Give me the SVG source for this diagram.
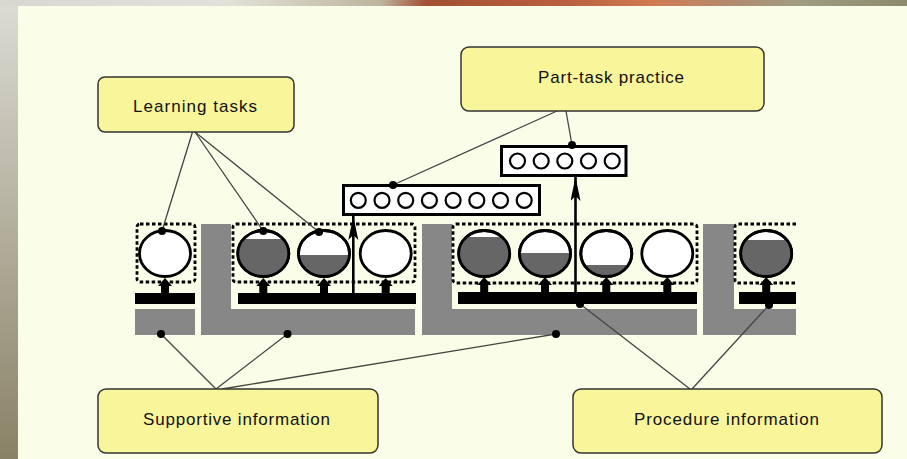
<svg xmlns="http://www.w3.org/2000/svg" width="907" height="459" viewBox="0 0 907 459">
<style>
.lbl{fill:#f8f59b;stroke:#333;stroke-width:1.5}
.txt{font-family:"Liberation Sans",Arial,sans-serif;font-size:17px;fill:#111;text-anchor:middle}
.dot{fill:#000}
.con line{stroke:#444;stroke-width:1.3}
.con line.arr{stroke:#000;stroke-width:2.6}
.dash{fill:none;stroke:#000;stroke-width:2.8;stroke-dasharray:3.5 2.5}
.ball{fill:#fff;stroke:#000;stroke-width:2.8}
.lvl{fill:#666}
.bar{fill:#000}
.grey{fill:#878787}
.seq{fill:#fff;stroke:#000;stroke-width:3}
.sc{fill:none;stroke:#000;stroke-width:2.2}
</style>
<defs>
<linearGradient id="lg" x1="0" y1="0" x2="0" y2="1">
<stop offset="0" stop-color="#dcdcd4"/><stop offset="1" stop-color="#8a8266"/>
</linearGradient>
<linearGradient id="tg" x1="0" y1="0" x2="1" y2="0">
<stop offset="0" stop-color="#d8d8d0"/><stop offset="0.25" stop-color="#e2e2da"/><stop offset="0.42" stop-color="#bdb49c"/><stop offset="0.47" stop-color="#a24f32"/><stop offset="0.62" stop-color="#b8603f"/><stop offset="0.72" stop-color="#d27a52"/><stop offset="0.8" stop-color="#b28a6c"/><stop offset="0.88" stop-color="#a09c82"/><stop offset="1" stop-color="#8e8a6e"/>
</linearGradient>
<marker id="ah" markerUnits="userSpaceOnUse" markerWidth="26" markerHeight="12" refX="24" refY="5" orient="auto">
<path d="M0,0 L24,5 L0,10 L5,5 Z" fill="#000"/>
</marker>
<path id="stem" d="M0,-15 L7,-7 L4,-7 L4,0 L-4,0 L-4,-7 L-7,-7 Z" fill="#000"/>
</defs>
<rect x="0" y="0" width="907" height="459" fill="#fafde8"/>
<rect x="0" y="0" width="18" height="459" fill="url(#lg)"/>
<rect x="0" y="0" width="907" height="6" fill="url(#tg)"/>

<g id="bands">
<rect class="grey" x="135" y="309" width="60" height="26"/>
<path class="grey" d="M201,224 H231 V309 H415 V335 H201 Z"/>
<path class="grey" d="M422,224 H452 V309 H697 V335 H422 Z"/>
<path class="grey" d="M703,224 H734 V309 H796 V335 H703 Z"/>
<rect class="bar" x="135" y="293" width="60" height="11"/>
<rect class="bar" x="238" y="293" width="178" height="11"/>
<rect class="bar" x="458" y="292" width="239" height="12"/>
<rect class="bar" x="739" y="292" width="57" height="12"/>
</g>

<g id="segment1">
<rect class="dash" x="137" y="224" width="58" height="58" rx="3"/>
<ellipse class="ball" cx="165" cy="253.5" rx="25.5" ry="23"/>
<use href="#stem" x="165" y="293"/>
</g>

<g id="segment2">
<rect class="dash" x="233" y="224" width="182" height="58" rx="3"/>
<ellipse class="ball" cx="263.3" cy="253.5" rx="25.5" ry="23"/>
<path class="lvl" d="M243.5,239 A25.5,23 0 1 0 283.1,239 Z"/>
<ellipse cx="263.3" cy="253.5" rx="25.5" ry="23" fill="none" stroke="#000" stroke-width="2.8"/>
<ellipse class="ball" cx="324" cy="253.5" rx="25.5" ry="23"/>
<path class="lvl" d="M298.6,255 A25.5,23 0 0 0 349.4,255 Z"/>
<ellipse cx="324" cy="253.5" rx="25.5" ry="23" fill="none" stroke="#000" stroke-width="2.8"/>
<ellipse class="ball" cx="385.7" cy="253.5" rx="25.5" ry="23"/>
<use href="#stem" x="263.3" y="293"/>
<use href="#stem" x="324" y="293"/>
<use href="#stem" x="385.7" y="293"/>
</g>

<g id="segment3">
<rect class="dash" x="453" y="224" width="244" height="59" rx="3"/>
<ellipse class="ball" cx="484.2" cy="253.5" rx="25.5" ry="23"/>
<path class="lvl" d="M466.4,237 A25.5,23 0 1 0 502,237 Z"/>
<ellipse cx="484.2" cy="253.5" rx="25.5" ry="23" fill="none" stroke="#000" stroke-width="2.8"/>
<ellipse class="ball" cx="545" cy="253.5" rx="25.5" ry="23"/>
<path class="lvl" d="M519.5,253 A25.5,23 0 1 0 570.5,253 Z"/>
<ellipse cx="545" cy="253.5" rx="25.5" ry="23" fill="none" stroke="#000" stroke-width="2.8"/>
<ellipse class="ball" cx="606.3" cy="253.5" rx="25.5" ry="23"/>
<path class="lvl" d="M584.2,265 A25.5,23 0 0 0 628.4,265 Z"/>
<ellipse cx="606.3" cy="253.5" rx="25.5" ry="23" fill="none" stroke="#000" stroke-width="2.8"/>
<ellipse class="ball" cx="667.3" cy="253.5" rx="25.5" ry="23"/>
<use href="#stem" x="484.2" y="292"/>
<use href="#stem" x="545" y="292"/>
<use href="#stem" x="606.3" y="292"/>
<use href="#stem" x="667.3" y="292"/>
</g>

<g id="segment4">
<path class="dash" d="M796,224 H738 Q735,224 735,227 V280 Q735,283 738,283 H796"/>
<ellipse class="ball" cx="766.2" cy="253.5" rx="25.5" ry="23"/>
<path class="lvl" d="M745.6,240 A25.5,23 0 1 0 786.8,240 Z"/>
<ellipse cx="766.2" cy="253.5" rx="25.5" ry="23" fill="none" stroke="#000" stroke-width="2.8"/>
<use href="#stem" x="766.2" y="292"/>
</g>

<g id="practice8">
<rect class="seq" x="343.5" y="185.5" width="196" height="29"/>
<circle class="sc" cx="358.3" cy="200.3" r="7.5"/>
<circle class="sc" cx="382" cy="200.3" r="7.5"/>
<circle class="sc" cx="405.7" cy="200.3" r="7.5"/>
<circle class="sc" cx="429.4" cy="200.3" r="7.5"/>
<circle class="sc" cx="453.1" cy="200.3" r="7.5"/>
<circle class="sc" cx="476.8" cy="200.3" r="7.5"/>
<circle class="sc" cx="500.5" cy="200.3" r="7.5"/>
<circle class="sc" cx="524.2" cy="200.3" r="7.5"/>
</g>

<g id="practice5">
<rect class="seq" x="501.5" y="146.5" width="124.5" height="29"/>
<circle class="sc" cx="517.5" cy="161" r="7.5"/>
<circle class="sc" cx="541.2" cy="161" r="7.5"/>
<circle class="sc" cx="564.8" cy="161" r="7.5"/>
<circle class="sc" cx="588.5" cy="161" r="7.5"/>
<circle class="sc" cx="612.2" cy="161" r="7.5"/>
</g>

<g id="connectors" class="con">
<line x1="192.5" y1="132" x2="162" y2="231"/>
<line x1="195" y1="132" x2="263.3" y2="231"/>
<line x1="195" y1="132" x2="319" y2="232"/>
<line x1="557" y1="111" x2="393" y2="185"/>
<line x1="566" y1="111" x2="572" y2="145"/>
<line x1="216" y1="389" x2="161" y2="334"/>
<line x1="216" y1="389" x2="287.5" y2="334"/>
<line x1="222" y1="389" x2="556" y2="334"/>
<line x1="690" y1="389" x2="580" y2="304"/>
<line x1="692" y1="389" x2="769" y2="305"/>
<line class="arr" x1="353.3" y1="293" x2="353.3" y2="216" marker-end="url(#ah)"/>
<line class="arr" x1="575.5" y1="304" x2="575.5" y2="177" marker-end="url(#ah)"/>
<circle class="dot" cx="162" cy="231" r="4"/>
<circle class="dot" cx="263.3" cy="231" r="4"/>
<circle class="dot" cx="319" cy="232" r="4"/>
<circle class="dot" cx="393" cy="185" r="4"/>
<circle class="dot" cx="572" cy="145" r="4"/>
<circle class="dot" cx="161" cy="334" r="4"/>
<circle class="dot" cx="287.5" cy="334" r="4"/>
<circle class="dot" cx="556" cy="334" r="4"/>
<circle class="dot" cx="580" cy="304" r="4"/>
<circle class="dot" cx="769" cy="305" r="4"/>
</g>

<g id="learning-tasks">
<rect class="lbl" x="98" y="77" width="196" height="55" rx="7"/>
<text class="txt" x="195" y="111.5" textLength="124" lengthAdjust="spacing">Learning  tasks</text>
</g>
<g id="part-task-practice">
<rect class="lbl" x="461" y="47" width="303" height="64" rx="8"/>
<text class="txt" x="611" y="82.5" textLength="146" lengthAdjust="spacing">Part-task  practice</text>
</g>
<g id="supportive-information">
<rect class="lbl" x="98" y="389" width="280" height="64" rx="8"/>
<text class="txt" x="236.5" y="424.5" textLength="187" lengthAdjust="spacing">Supportive  information</text>
</g>
<g id="procedure-information">
<rect class="lbl" x="573" y="389" width="309" height="64" rx="8"/>
<text class="txt" x="726.5" y="424.5" textLength="185" lengthAdjust="spacing">Procedure  information</text>
</g>
</svg>
